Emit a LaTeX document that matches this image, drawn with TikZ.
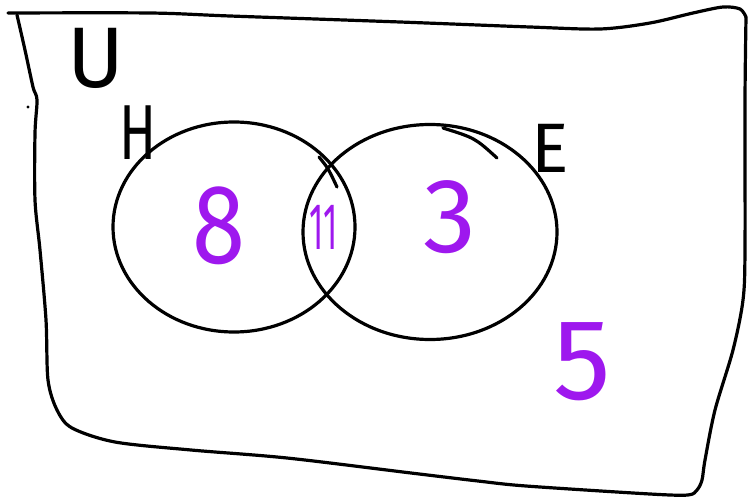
\documentclass[tikz,border=0pt]{standalone}
\usepackage{fontspec}
\newfontfamily\handfont{Fira Sans}
\usetikzlibrary{shapes.geometric}
\definecolor{pen}{RGB}{158,24,238}
\begin{document}
\begin{tikzpicture}[x=1pt,y=-1pt, line width=3.2pt, line cap=round, line join=round,
  num/.style={text=pen, inner sep=0pt},
  lab/.style={inner sep=0pt},
  setshape/.style={draw, ellipse, inner sep=0pt}]
\useasboundingbox (0,0) rectangle (749,497);
% universe boundary
\draw plot[smooth, tension=0.5] coordinates {(8,13) (150,13) (230,16) (400,22) (530,27) (600,29) (650,23) (693,13) (723,7) (740,9) (746,17)};
\draw plot[smooth, tension=0.5] coordinates {(746,17) (745,100) (745,250) (743,300) (733,350) (715,410) (705,460) (702,480) (697,490) (688,495) (650,494) (526,486) (478,481) (411,473) (287,458) (191,450) (115,442) (72,428) (57,410) (48,380) (46,320) (40,250) (35,200) (35,133) (37,100) (33,87) (25,50) (17,15)};
\fill (28,107) circle (1.6pt);
% sets
\node[setshape, minimum width=242pt, minimum height=210pt] (H) at (234,227) {};
\node[setshape, minimum width=254pt, minimum height=215pt] (E) at (430,232) {};
\draw (319,157) .. controls (328,168) .. (337,187);
\draw (443,128) .. controls (475,138) .. (497,158);
% labels
\node[lab, font=\handfont\fontsize{86}{86}\selectfont] (U) at (96,58) {U};
\node[lab, font=\handfont\fontsize{78}{78}\selectfont] (Hl) at (138,133) {\scalebox{0.7}[1]{H}};
\node[lab, font=\handfont\fontsize{70}{70}\selectfont] (El) at (550,148) {E};
% numbers
\node[num, font=\handfont\fontsize{113}{113}\selectfont] (n8) at (219,226) {\scalebox{0.85}[1]{8}};
\node[num, font=\handfont\fontsize{66}{66}\selectfont] (n11) at (324,227) {\scalebox{0.5}[1]{11}};
\node[num, font=\handfont\fontsize{106}{106}\selectfont] (n3) at (450,217) {3};
\node[num, font=\handfont\fontsize{115}{115}\selectfont] (n5) at (582,362) {5};
\end{tikzpicture}
\end{document}
